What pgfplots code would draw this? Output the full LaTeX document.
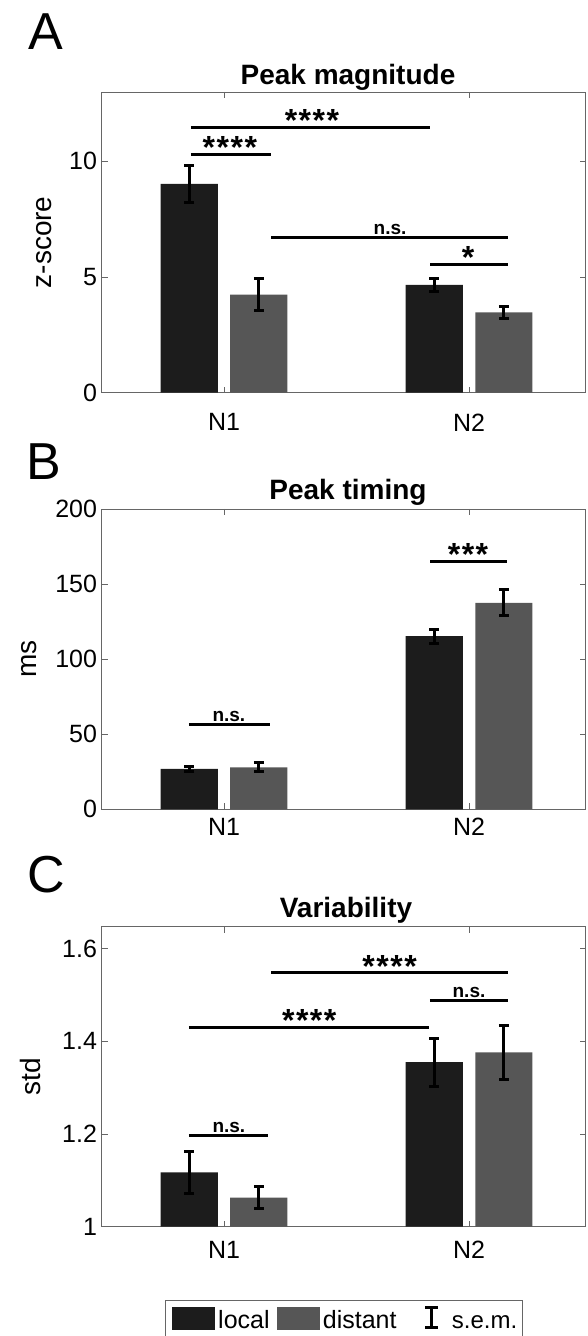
\documentclass[border=0pt]{standalone}
\usepackage{fontspec}
\setmainfont{Liberation Sans}
\usepackage{pgfplots}
\pgfplotsset{compat=1.18}
\definecolor{localc}{HTML}{1C1C1C}
\definecolor{distc}{HTML}{565656}
\newcommand{\fs}[1]{\fontsize{#1}{#1}\selectfont}
\newcommand{\stars}[1]{\ifcase#1\or*\or*\kern1.5pt*\or*\kern1.5pt*\kern1.5pt*\or*\kern1.5pt*\kern1.5pt*\kern1.5pt*\fi}

\pgfplotsset{
  panel/.style={
    scale only axis, width=484pt, anchor=south west,
    xmin=0.5, xmax=2.4755,
    xtick={1,2}, xticklabels={N1,N2},
    xtick pos=both, ytick pos=both, xticklabel pos=lower, yticklabel pos=left,
    tick align=inside, major tick length=6pt,
    axis line style={black!60, line width=0.9pt},
    every tick/.style={black!60, line width=0.9pt},
    ticklabel style={font=\fs{25}},
    yticklabel style={xshift=-1pt},
    /pgf/number format/assume math mode=true,
    ylabel style={font=\fs{28}, anchor=center},
    clip=true,
  },
  errs/.style={error bars/.cd, y dir=both, y explicit,
    error mark=|,
    error bar style={line width=2.9pt, black},
    error mark options={line width=2.9pt, mark size=5pt, black}},
  localbar/.style={ybar, bar width=0.233, bar shift=0pt, fill=localc, draw=none, errs},
  distbar/.style={ybar, bar width=0.233, bar shift=0pt, fill=distc, draw=none, errs},
  sig/.style={black, line width=3pt, no marks},
}
\tikzset{
  st/.style={anchor=base, yshift=-4.5pt, font=\bfseries\fs{32}, inner sep=0},
  ns/.style={anchor=base, yshift=3pt, font=\bfseries\fs{19}, inner sep=0},
}

\begin{document}
\begin{tikzpicture}[x=1pt,y=1pt]
\useasboundingbox (0,0) rectangle (587,1336);

% ---------------- Panel A ----------------
\node[anchor=base west, font=\fs{52}, inner sep=0] at (28,1286) {A};
\node[anchor=base, font=\bfseries\fs{28}, inner sep=0] at (348,1251.7) {Peak magnitude};
\begin{axis}[panel, at={(101.5pt,943.3pt)}, height=300.7pt,
  ymin=0, ymax=13, ytick={0,5,10},
  ylabel={z-score}, ylabel style={at={(axis description cs:-0.119,0.5)}},
  xticklabel style={yshift=-17.5pt}]
\addplot[localbar] coordinates {(0.858,9.03) +- (0,0.79) (1.858,4.66) +- (0,0.29)};
\addplot[distbar] coordinates {(1.142,4.24) +- (0,0.68) (2.142,3.47) +- (0,0.25)};
\addplot[sig] coordinates {(0.865,11.48) (1.841,11.48)};
\addplot[sig] coordinates {(0.865,10.31) (1.192,10.31)};
\addplot[sig] coordinates {(1.192,6.73) (2.159,6.73)};
\addplot[sig] coordinates {(1.841,5.55) (2.159,5.55)};
\node[st] at (axis cs:1.359,11.48) {\stars{4}};
\node[st] at (axis cs:1.024,10.31) {\stars{4}};
\node[ns] at (axis cs:1.678,6.73) {n.s.};
\node[st] at (axis cs:1.996,5.55) {\stars{1}};
\end{axis}

% ---------------- Panel B ----------------
\node[anchor=base west, font=\fs{52}, inner sep=0] at (26,856) {B};
\node[anchor=base, font=\bfseries\fs{28}, inner sep=0] at (348,836) {Peak timing};
\begin{axis}[panel, at={(101.5pt,526.7pt)}, height=300.3pt,
  ymin=0, ymax=200, ytick={0,50,100,150,200},
  ylabel={ms}, ylabel style={at={(axis description cs:-0.150,0.5)}},
  xticklabel style={yshift=-5.5pt}]
\addplot[localbar] coordinates {(0.858,26.9) +- (0,1.9) (1.858,115.3) +- (0,4.7)};
\addplot[distbar] coordinates {(1.142,28.0) +- (0,3.0) (2.142,137.5) +- (0,8.7)};
\addplot[sig] coordinates {(1.841,165.2) (2.157,165.2)};
\addplot[sig] coordinates {(0.857,56.2) (1.188,56.2)};
\node[st] at (axis cs:1.996,165.2) {\stars{3}};
\node[ns] at (axis cs:1.02,56.2) {n.s.};
\end{axis}

% ---------------- Panel C ----------------
\node[anchor=base west, font=\fs{52}, inner sep=0] at (27.5,443) {C};
\node[anchor=base, font=\bfseries\fs{28}, inner sep=0] at (346,418) {Variability};
\begin{axis}[panel, at={(101.5pt,109.3pt)}, height=300pt,
  ymin=1, ymax=1.6475, ytick={1,1.2,1.4,1.6},
  ylabel={std}, ylabel style={at={(axis description cs:-0.146,0.5)}},
  xticklabel style={yshift=-11pt}]
\addplot[localbar] coordinates {(0.858,1.117) +- (0,0.045) (1.858,1.355) +- (0,0.052)};
\addplot[distbar] coordinates {(1.142,1.063) +- (0,0.023) (2.142,1.376) +- (0,0.059)};
\addplot[sig] coordinates {(1.193,1.5476) (2.160,1.5476)};
\addplot[sig] coordinates {(1.840,1.489) (2.160,1.489)};
\addplot[sig] coordinates {(0.857,1.430) (1.836,1.430)};
\addplot[sig] coordinates {(0.857,1.197) (1.180,1.197)};
\node[st] at (axis cs:1.676,1.5476) {\stars{4}};
\node[ns] at (axis cs:2.0,1.489) {n.s.};
\node[st] at (axis cs:1.348,1.430) {\stars{4}};
\node[ns] at (axis cs:1.02,1.197) {n.s.};
\end{axis}

% ---------------- Legend ----------------
\draw[black!60, line width=0.9pt] (165,-5) rectangle (522,35.3);
\fill[localc] (171.7,6) rectangle (215,29.3);
\node[anchor=base west, inner sep=0, font=\fs{25}] at (218,7.7) {local};
\fill[distc] (276.7,6) rectangle (320,29.3);
\node[anchor=base west, inner sep=0, font=\fs{25}] at (322.7,7.7) {distant};
\draw[black, line width=2.9pt] (431.5,8.2) -- (431.5,28.8);
\draw[black, line width=2.9pt] (425,8.2) -- (438,8.2);
\draw[black, line width=2.9pt] (425,28.8) -- (438,28.8);
\node[anchor=base west, inner sep=0, font=\fs{24}] at (451.7,7.7) {s.e.m.};
\end{tikzpicture}
\end{document}
